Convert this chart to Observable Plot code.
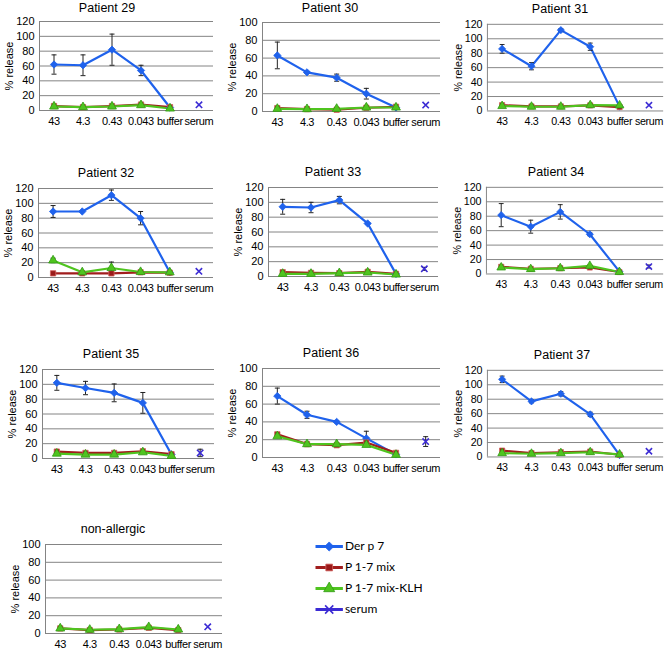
<!DOCTYPE html>
<html><head><meta charset="utf-8">
<script src="https://cdn.jsdelivr.net/npm/d3@7"></script>
<script src="https://cdn.jsdelivr.net/npm/@observablehq/plot@0.6"></script>
<style>
body{margin:0;background:#fff;}
#chart{position:relative;width:669px;height:649px;overflow:hidden;font-family:"Liberation Sans",Arial,sans-serif;background:#fff;}
.panel{position:absolute;}
.title{position:absolute;font-size:12.5px;line-height:14px;color:#000;transform:translate(-50%,-50%);white-space:nowrap;font-family:"Liberation Sans",Arial,sans-serif;}
g[aria-label="x-axis tick label"] text{letter-spacing:-0.35px;}
</style></head><body><div id="chart"></div>
<script>
const concentrations = ["43","4.3","0.43","0.043","buffer","serum"];
const panelNames = ["Patient 29","Patient 30","Patient 31","Patient 32","Patient 33","Patient 34","Patient 35","Patient 36","Patient 37","non-allergic"];
const yMax = [120,100,120,120,120,120,120,100,120,100];
const seriesNames = ["Der p 7","P 1-7 mix","P 1-7 mix-KLH","serum"];
const derP7 = [
 [62,61,82,54,4],
 [63,44,38,20,4.5],
 [86,62,112,89,6],
 [89,89,111,80,7],
 [94,93,103,71.5,3.5],
 [81.5,65.5,86,55,3.5],
 [102,95,88.5,75,5.5],
 [69,48,40,21.5,3.5],
 [107.5,77,87.5,59,2.5],
 [null,null,null,null,null]
];
const derP7Err = [
 [13,14,21,7,0],
 [15,1,4,6,0],
 [6,5,2,5,0],
 [8,0,7,9,0],
 [10,7,5,1,0],
 [16,9,10,2,0],
 [10,9,12,14,0],
 [9,4,1,8,0],
 [4.5,2,3,3,0],
 [0,0,0,0,0]
];
const p17mix = [
 [6,4.5,6,8,4.5],
 [3.8,2.7,2,4.2,5.3],
 [8,6.3,6.3,7.7,5.4],
 [5.6,5.6,5.6,7,6.5],
 [5.8,4.9,4.5,6.3,3.6],
 [9.9,7.2,8,9,2.7],
 [9.3,7.5,7.5,9.7,5.8],
 [26,15,13.8,16.8,5.2],
 [8.8,5.3,6.6,7.5,3],
 [5.7,3.8,4.5,6.4,3.8]
];
const p17mixKLH = [
 [5.4,4.5,5.4,7.2,2.7],
 [3,2.7,3,4.5,4.5],
 [6.8,5.9,5.9,8,7.7],
 [23,7,12.8,7.4,7],
 [3.6,3.6,4.5,5.4,2.7],
 [9,6.7,8,11.2,2.7],
 [6.6,5.3,5.3,8.4,3.5],
 [23.9,15,15,14.2,3],
 [5.3,4.4,5.3,6.6,3.5],
 [5.7,4.2,4.9,7.2,4.5]
];
const p17mixKLHErr = [
 [0,0,0,0,0],[0,0,0,0,0],[0,0,0,0,0],
 [3,0,8,0,0],
 [0,0,0,0,0],[0,0,0,0,0],[0,0,0,0,0],[0,0,0,0,0],[0,0,0,0,0],[0,0,0,0,0]
];
const serum = [7.7,7.2,8,8.3,10.3,10.3,7.5,17.9,7.9,7.5];
const serumErr = [0,0,0,0,2,2,5,5.5,0,0];

// layout (pixel frame of each small multiple)
const layout = [
 {left:39,right:213,top:21,tx:107},
 {left:262,right:440,top:22,tx:330},
 {left:488,right:669,top:24,tx:560},
 {left:38,right:213,top:188,tx:106},
 {left:268,right:438,top:187,tx:333},
 {left:487,right:669,top:187,tx:556},
 {left:42,right:214,top:369,tx:111},
 {left:262,right:440,top:368,tx:331},
 {left:488,right:669,top:370,tx:562},
 {left:45,right:222,top:544,tx:113}
];
const styles = {
 "Der p 7": {line:"#1f62ec", symbol:"diamond2", fill:"#1f62ec", stroke:"#1f62ec", r:3.3},
 "P 1-7 mix": {line:"#a11d1d", symbol:"square", fill:"#9a1a1a", stroke:"#d2605c", r:3},
 "P 1-7 mix-KLH": {line:"#4fc41f", symbol:"triangle", fill:"#4fc41f", stroke:"#2f9a12", r:3.3},
 "serum": {line:"#3b2bd4", symbol:"times", fill:"none", stroke:"#3b2bd4", r:3}
};
const cap = {draw(ctx){ ctx.moveTo(-2.5,0); ctx.lineTo(2.5,0); }};
const chart = document.getElementById("chart");
const plotH = 89, mL = 40, mT = 6, mB = 24, mR = 6;

panelNames.forEach((name, i) => {
  const L = layout[i];
  const rows = [];
  const add = (series, vals, errs) => vals.forEach((v, j) => { if (v != null) rows.push({series, x: j, y: v, err: errs ? errs[j] : 0}); });
  add("Der p 7", derP7[i], derP7Err[i]);
  add("P 1-7 mix", p17mix[i], null);
  add("P 1-7 mix-KLH", p17mixKLH[i], p17mixKLHErr[i]);
  rows.push({series: "serum", x: concentrations.length - 1, y: serum[i], err: serumErr[i]});
  const errRows = rows.filter(d => d.err > 0);
  const marks = [
    Plot.ruleY(d3.range(0, yMax[i] + 1, 20), {stroke: "#848484", strokeWidth: 1}),
    Plot.ruleX([-0.5], {stroke: "#848484", strokeWidth: 1})
  ];
  ["Der p 7","P 1-7 mix","P 1-7 mix-KLH"].forEach(s => {
    marks.push(Plot.line(rows.filter(d => d.series === s), {x: "x", y: "y", stroke: styles[s].line, strokeWidth: 2.2}));
  });
  marks.push(Plot.ruleX(errRows, {x: "x", y1: d => d.y - d.err, y2: d => d.y + d.err, stroke: "#222", strokeWidth: 1}));
  marks.push(Plot.dot(errRows, {x: "x", y: d => d.y - d.err, symbol: cap, fill: "none", stroke: "#222", strokeWidth: 1}));
  marks.push(Plot.dot(errRows, {x: "x", y: d => d.y + d.err, symbol: cap, fill: "none", stroke: "#222", strokeWidth: 1}));
  seriesNames.forEach(s => {
    const st = styles[s];
    marks.push(Plot.dot(rows.filter(d => d.series === s), {x: "x", y: "y", symbol: st.symbol, fill: st.fill, stroke: st.stroke, strokeWidth: s === "serum" ? 1.6 : 0.8, r: st.r}));
  });
  const p = Plot.plot({
    width: L.right - L.left + mL + mR,
    height: mT + plotH + mB,
    marginLeft: mL, marginRight: mR, marginTop: mT, marginBottom: mB,
    style: {fontFamily: "'Liberation Sans', Arial, sans-serif", fontSize: "11px", background: "transparent", color: "#000", overflow: "visible"},
    x: {domain: [-0.5, concentrations.length - 0.5], ticks: concentrations.length, tickFormat: k => concentrations[k], tickSize: 0, tickPadding: 7, label: null},
    y: {domain: [0, yMax[i]], ticks: yMax[i] / 20, tickSize: 0, tickPadding: 5, label: "% release", labelAnchor: "center", labelArrow: false, labelOffset: 34},
    marks
  });
  const div = document.createElement("div");
  div.className = "panel";
  div.style.left = (L.left - mL) + "px";
  div.style.top = (L.top - mT) + "px";
  div.appendChild(p);
  chart.appendChild(div);
  const t = document.createElement("div");
  t.className = "title";
  t.textContent = name;
  t.style.left = L.tx + "px";
  t.style.top = Math.max(L.top - 15, 8) + "px";
  chart.appendChild(t);
});

// legend
const leg = Plot.plot({
  width: 140, height: 88,
  marginLeft: 3, marginRight: 0, marginTop: 12, marginBottom: 12,
  style: {fontFamily: "Lato, 'Open Sans', sans-serif", fontSize: "12px", background: "transparent", color: "#000"},
  x: {domain: [0, 4.5], axis: null},
  y: {type: "point", domain: seriesNames, padding: 0, axis: null},
  marks: seriesNames.flatMap(s => {
    const st = styles[s];
    return [
      Plot.link([s], {x1: 0, x2: 0.9, y1: d => d, y2: d => d, stroke: st.line, strokeWidth: 3}),
      Plot.dot([s], {x: 0.45, y: d => d, symbol: st.symbol, fill: st.fill, stroke: st.stroke, strokeWidth: s === "serum" ? 1.6 : 0.8, r: st.r + 0.8}),
      Plot.text([s], {x: 0.9, y: d => d, text: d => d, textAnchor: "start", dx: 2})
    ];
  })
});
const ld = document.createElement("div");
ld.className = "panel";
ld.style.left = "312px";
ld.style.top = "533px";
ld.appendChild(leg);
chart.appendChild(ld);
</script></body></html>
